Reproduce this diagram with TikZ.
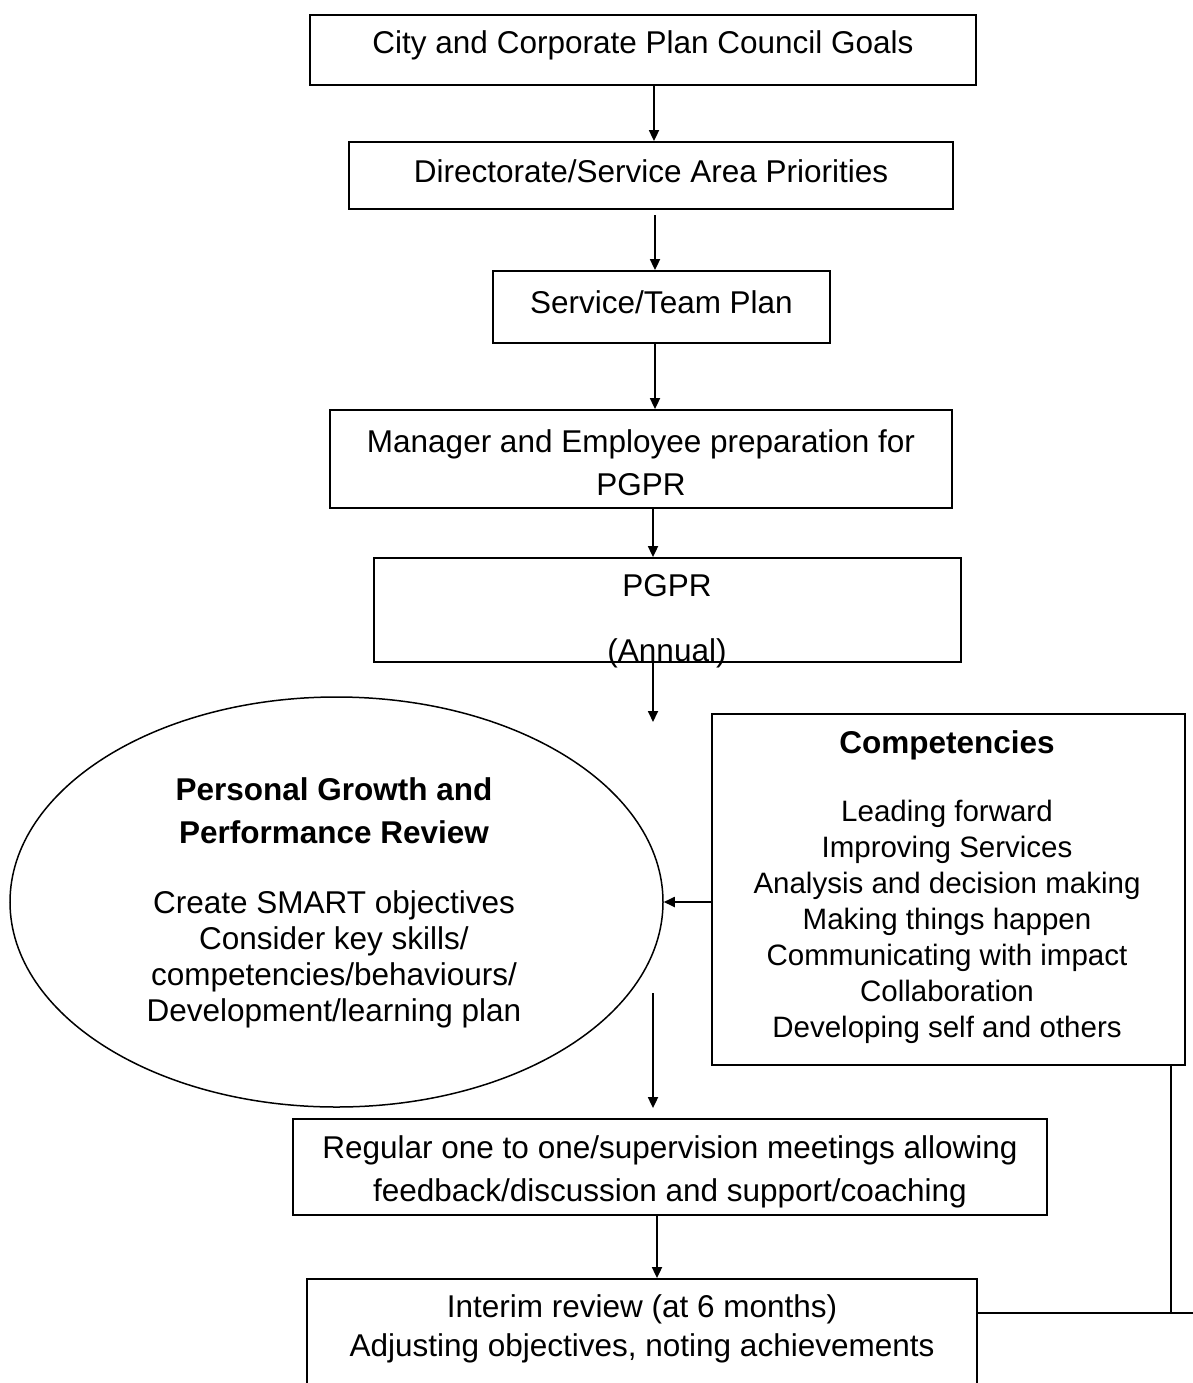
\documentclass[tikz,border=0pt]{standalone}
\usepackage{fontspec}
\setmainfont{Liberation Sans}
\usetikzlibrary{arrows.meta,shapes.geometric,calc}
\tikzset{
  box/.style={draw=black, line width=1.8pt, inner sep=0pt, rectangle},
  txt/.style={inner sep=0pt, align=center, font=\fontsize{31.5}{36}\selectfont},
  txtwide/.style={inner sep=0pt, align=center, font=\fontsize{31.5}{43}\selectfont},
  arr/.style={line width=1.8pt, -{Triangle[length=11pt,width=10pt]}},
  conn/.style={line width=1.8pt},
}
\begin{document}
\begin{tikzpicture}[x=1pt,y=-1pt]
\clip (0,0) rectangle (1193,1383);
\useasboundingbox (0,0) rectangle (1193,1383);

% boxes
\node[box, minimum width=666pt, minimum height=70pt] (city) at (643,50) {};
\node[txt] (cityt) at (643,45) {City and Corporate Plan Council Goals};

\node[box, minimum width=604pt, minimum height=67pt] (dir) at (651,175.5) {};
\node[txt] (dirt) at (651,171) {Directorate/Service Area Priorities};

\node[box, minimum width=337pt, minimum height=72pt] (svc) at (661.5,307) {};
\node[txt] (svct) at (661.5,302) {Service/Team Plan};

\node[box, minimum width=622pt, minimum height=98pt] (mgr) at (641,459) {};
\node[txtwide] (mgrt) at (641,463) {Manager and Employee preparation for\\PGPR};

\node[box, minimum width=587pt, minimum height=104pt] (pgpr) at (667.5,610) {};
\node[txt] (pgprt) at (667,621) {PGPR\\[29pt](Annual)};

\node[draw=black, line width=1.5pt, ellipse, inner sep=0pt, minimum width=653pt, minimum height=410pt] (ell) at (336.5,902) {};
\node[txt] (ellt) at (334,903) {\bfseries Personal Growth and\\[7pt]\bfseries Performance Review\\[34pt]Create SMART objectives\\Consider key skills/\\competencies/behaviours/\\Development/learning plan};

\node[box, minimum width=473pt, minimum height=351pt] (comp) at (948.5,889.5) {};
\node[txt] (compt) at (947,887) {\bfseries Competencies\\[32pt]\fontsize{29.5}{36}\selectfont Leading forward\\\fontsize{29.5}{36}\selectfont Improving Services\\\fontsize{29.5}{36}\selectfont Analysis and decision making\\\fontsize{29.5}{36}\selectfont Making things happen\\\fontsize{29.5}{36}\selectfont Communicating with impact\\\fontsize{29.5}{36}\selectfont Collaboration\\\fontsize{29.5}{36}\selectfont Developing self and others};

\node[box, minimum width=754pt, minimum height=96pt] (reg) at (670,1167) {};
\node[txtwide] (regt) at (670,1172) {Regular one to one/supervision meetings allowing\\feedback/discussion and support/coaching};

\node[box, minimum width=670pt, minimum height=121pt] (int) at (642,1339.5) {};
\node[txt, font=\fontsize{31.5}{39}\selectfont] (intt) at (642,1329) {Interim review (at 6 months)\\Adjusting objectives, noting achievements};

% helper coordinates
\coordinate (a1) at (654,0);
\coordinate (a2) at (655,215);
\coordinate (a3) at (655,0);
\coordinate (a4) at (653,0);
\coordinate (pend) at (653,722);
\coordinate (estart) at (653,993);
\coordinate (a8) at (657,0);
\coordinate (jn) at (1171,1313);
\coordinate (redge) at (1193,1313);

% connectors
\draw[arr] (city.south -| a1) -- (dir.north -| a1);
\draw[arr] (a2) -- (svc.north -| a2);
\draw[arr] (svc.south -| a3) -- (mgr.north -| a3);
\draw[arr] (mgr.south -| a4) -- (pgpr.north -| a4);
\draw[arr] (pgpr.south -| pend) -- (pend);
\draw[arr] (comp.west |- ell.east) -- (ell.east);
\draw[arr, shorten >=10pt] (estart) -- (reg.north -| estart);
\draw[arr] (reg.south -| a8) -- (int.north -| a8);
\draw[conn] (comp.south -| jn) -- (jn);
\draw[conn] (int.east |- jn) -- (redge);
\end{tikzpicture}
\end{document}
